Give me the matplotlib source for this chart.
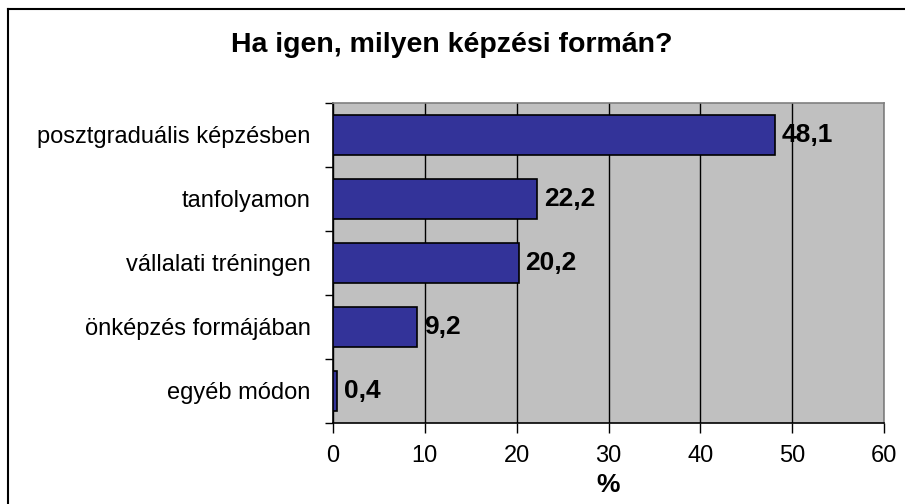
import matplotlib
matplotlib.use("Agg")
import matplotlib.pyplot as plt
from matplotlib.lines import Line2D

categories = ["posztgraduális képzésben", "tanfolyamon", "vállalati tréningen",
              "önképzés formájában", "egyéb módon"]
values = [48.1, 22.2, 20.2, 9.2, 0.4]
value_labels = ["48,1", "22,2", "20,2", "9,2", "0,4"]
xticks = [0, 10, 20, 30, 40, 50, 60]
title = "Ha igen, milyen képzési formán?"
xlabel = "%"

plt.rcParams['font.family'] = ['Liberation Sans', 'DejaVu Sans']

fig = plt.figure(figsize=(9.05, 5.04), dpi=100)
W, H = 905, 504
ax = fig.add_axes([333 / W, 1 - 423 / H, (884 - 333) / W, (423 - 103) / H])
ax.set_facecolor("#C0C0C0")

n = len(categories)
ypos = list(range(n))
ax.barh(ypos, values, height=0.61, color="#333399", edgecolor="black",
        linewidth=1.2, zorder=3)
for y, v, lab in zip(ypos, values, value_labels):
    ax.text(v + 0.75, y, lab, va="center", ha="left", fontsize=19,
            fontweight="bold", zorder=5)

ax.set_xlim(0, 60)
ax.set_ylim(n - 0.5, -0.5)
ax.set_xticks(xticks)
ax.set_xticklabels([str(t) for t in xticks], fontsize=17)
ax.set_yticks([i + 0.5 for i in range(-1, n)], minor=False)
ax.set_yticklabels([])
ax.set_yticks(ypos, minor=True)
ax.set_yticklabels(categories, minor=True, fontsize=17)
ax.tick_params(axis="y", which="minor", length=0, pad=16)
ax.tick_params(axis="y", which="major", length=6, width=1, direction="out")
ax.tick_params(axis="x", length=7, width=1, direction="out", pad=9)
ax.xaxis.grid(True, color="black", linewidth=1, zorder=1)
ax.set_axisbelow(True)
ax.set_xlabel(xlabel, fontsize=19, fontweight="bold")
ax.xaxis.set_label_coords(0.5, (423 - 485) / (423 - 103))
ax.xaxis.label.set_va("center")

ax.spines["left"].set_color("black")
ax.spines["bottom"].set_color("black")
ax.spines["top"].set_color("#808080")
ax.spines["right"].set_color("#808080")
for s in ax.spines.values():
    s.set_linewidth(1.2)

fig.text(452 / W, 1 - 45 / H, title, ha="center", va="center",
         fontsize=20.5, fontweight="bold")

# outer chart frame (left and top edges visible)
fig.add_artist(Line2D([8 / W, 8 / W], [0, 1 - 9 / H], transform=fig.transFigure,
                      color="black", linewidth=1.5))
fig.add_artist(Line2D([8 / W, 1], [1 - 9 / H, 1 - 9 / H], transform=fig.transFigure,
                      color="black", linewidth=1.5))

fig.savefig("out.png", dpi=100)
